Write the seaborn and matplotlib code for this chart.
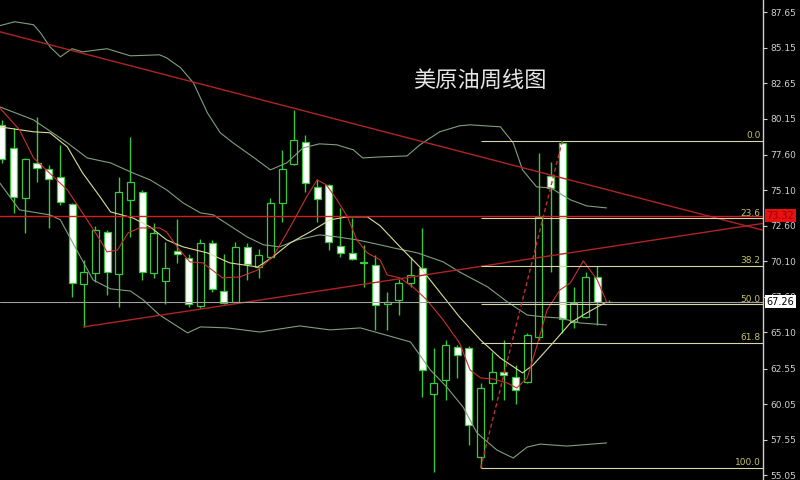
import numpy as np
import pandas as pd
import matplotlib
matplotlib.use("Agg")
import matplotlib.pyplot as plt
import matplotlib.transforms as mtransforms
import seaborn as sns

# Visual style -----------------------------------------------------
c_bg = "black"
c_candle = "#3cc83c"
c_band = "#7f9f7f"
c_ma_fast = "#c83030"
c_ma_slow = "#dcdc98"
c_trend = "#b02424"
c_fib = "#d6d6a8"
c_fib_txt = "#c8c068"
c_axis = "#d0d0d0"
lw = 0.8

# Weekly candles (one row per week) --------------------------------
opens = [79.71, 78.09, 74.57, 77.03, 76.61, 76.05, 74.15, 68.51, 69.28, 72.17,
         69.21, 74.43, 74.99, 69.28, 68.72, 70.83, 70.34, 66.96, 71.40, 68.01,
         67.24, 71.12, 69.70, 70.41, 74.22, 76.96, 78.51, 75.34, 75.48, 71.19,
         70.69, 70.06, 69.85, 67.10, 67.38, 68.58, 69.63, 60.76, 61.75, 64.07,
         64.00, 56.32, 61.53, 62.31, 61.96, 61.60, 64.77, 76.12, 78.44, 65.83,
         66.18, 69.00, 67.26]
highs = [80.06, 79.50, 77.40, 80.27, 76.89, 78.30, 74.22, 70.20, 72.60, 72.31,
         76.05, 78.87, 75.13, 72.81, 71.47, 73.09, 70.62, 71.68, 71.61, 70.62,
         71.47, 71.40, 70.97, 74.57, 77.95, 80.77, 79.01, 75.91, 75.55, 73.86,
         73.16, 71.26, 70.55, 67.94, 68.86, 70.41, 72.45, 64.00, 64.56, 64.21,
         64.14, 61.53, 63.72, 64.56, 62.80, 65.06, 77.74, 77.10, 78.57, 68.30,
         69.35, 69.78, 67.35]
lows = [77.03, 73.51, 72.10, 75.70, 72.45, 74.08, 67.59, 65.48, 68.65, 67.73,
        66.89, 71.82, 68.79, 68.93, 67.10, 69.99, 66.89, 66.82, 67.94, 67.10,
        67.17, 68.79, 68.93, 70.34, 72.88, 76.89, 74.99, 72.88, 70.90, 70.41,
        70.20, 68.30, 65.27, 65.27, 66.32, 68.30, 60.55, 55.26, 60.34, 61.89,
        57.17, 55.54, 60.34, 60.34, 60.05, 61.53, 64.56, 69.35, 65.06, 65.41,
        66.10, 65.62, 67.20]
closes = [77.31, 74.64, 77.31, 76.68, 75.91, 74.29, 68.58, 69.35, 72.31, 69.35,
          74.99, 75.70, 69.35, 72.10, 69.63, 70.62, 67.10, 71.40, 68.16, 67.17,
          71.12, 69.92, 70.55, 74.22, 76.61, 78.65, 75.63, 74.50, 71.47, 70.69,
          70.27, 69.99, 67.03, 67.24, 68.58, 69.14, 62.45, 61.53, 64.21, 63.51,
          58.57, 61.18, 62.31, 62.10, 61.04, 64.92, 73.23, 75.27, 66.04, 67.17,
          69.00, 67.20, 67.26]

# Indicator lines (week position, price) ----------------------------
bb_up_x = [-0.2, 1.1, 2.7, 3.3, 4.1, 5.0, 6.0, 6.9, 9.0, 11.0, 13.5, 14.1, 15.3,
           16.4, 17.6, 18.7, 19.8, 21.5, 23.0, 24.4, 25.8, 27.2, 28.7, 30.1,
           30.9, 32.4, 34.7, 35.8, 37.5, 39.2, 40.1, 42.7, 43.8, 44.6, 45.8,
           47.0, 48.7, 50.1, 51.8]
bb_up = [86.69, 86.97, 86.76, 86.19, 85.21, 84.50, 85.07, 84.85, 85.07, 84.57,
         84.64, 84.43, 83.73, 82.67, 80.55, 79.15, 78.44, 77.45, 76.54, 77.03,
         78.09, 78.37, 78.30, 77.95, 77.38, 77.45, 77.52, 78.30, 79.22, 79.64,
         79.71, 79.57, 78.44, 76.54, 75.34, 75.27, 74.43, 74.00, 73.86]

bb_mid_x = [-0.2, 2.7, 5.6, 7.3, 9.3, 11.2, 12.7, 14.1, 15.5, 17.0, 18.1, 21.0,
            22.4, 23.8, 25.3, 27.2, 28.7, 30.4, 32.4, 33.5, 35.6, 37.8, 39.2,
            41.6, 43.3, 45.0, 46.4, 47.8, 49.5, 51.8]
bb_mid = [80.98, 80.06, 78.44, 77.38, 77.03, 76.33, 75.83, 75.13, 74.22, 73.51,
          73.37, 71.82, 71.26, 71.12, 71.61, 71.96, 71.82, 71.61, 71.26, 71.05,
          70.69, 70.06, 69.35, 68.30, 67.24, 66.32, 66.18, 66.11, 65.76, 65.62]

bb_low_x = [-0.2, 1.5, 4.1, 5.0, 6.4, 7.8, 9.3, 11.0, 12.1, 13.5, 15.9, 17.0,
            19.3, 22.1, 25.5, 28.1, 30.7, 33.5, 35.0, 36.7, 38.1, 39.5, 40.7,
            42.4, 43.8, 45.0, 46.1, 48.4, 51.8]
bb_low = [75.63, 73.72, 73.37, 73.02, 70.90, 68.79, 68.16, 68.01, 67.38, 66.32,
          65.06, 65.48, 65.41, 65.12, 65.55, 65.27, 65.41, 64.77, 64.42, 62.45,
          61.25, 59.84, 58.01, 56.81, 56.25, 57.02, 57.23, 57.09, 57.31]

ma_slow_x = [-0.2, 2.7, 4.1, 5.6, 6.9, 8.4, 9.3, 11.2, 12.7, 14.1, 15.5, 17.6,
             19.5, 21.9, 23.2, 24.7, 26.4, 28.1, 29.6, 31.3, 32.4, 34.1, 35.8,
             37.5, 39.2, 41.0, 42.7, 44.6, 45.5, 47.2, 48.7, 50.1, 51.8]
ma_slow = [79.57, 79.22, 79.15, 78.16, 76.33, 74.64, 73.58, 73.16, 72.52, 71.61,
           71.12, 70.69, 69.99, 69.70, 70.41, 71.40, 72.17, 73.02, 73.23, 73.23,
           72.60, 71.12, 69.70, 67.94, 66.18, 64.56, 63.29, 62.24, 62.80, 64.35,
           65.76, 66.47, 67.24]

ma_fast_x = [-0.2, 1.5, 2.7, 5.6, 6.9, 8.4, 9.0, 9.9, 10.8, 11.8, 13.5, 14.1,
             15.0, 16.1, 17.2, 18.9, 20.4, 21.9, 23.2, 24.7, 26.1, 27.0, 27.8,
             28.7, 29.6, 30.4, 31.3, 32.4, 33.0, 34.1, 35.2, 36.4, 37.8, 39.2,
             40.1, 41.0, 42.1, 43.3, 44.1, 45.0, 45.8, 46.7, 47.8, 48.7, 49.8,
             51.0, 51.8]
ma_fast = [80.91, 79.36, 77.38, 75.13, 73.51, 71.61, 70.76, 70.90, 72.10, 72.45,
           72.45, 72.17, 71.12, 70.06, 69.99, 68.93, 69.00, 69.49, 70.41, 72.52,
           74.64, 75.83, 75.48, 74.43, 73.23, 71.61, 70.69, 70.20, 69.14, 68.93,
           68.30, 67.38, 65.97, 64.35, 62.45, 61.89, 61.81, 61.53, 61.18, 61.89,
           64.07, 66.67, 68.08, 68.58, 70.13, 68.79, 67.24]

# Drawn objects: trend lines, fib retracement, price lines ----------
down_trend_x = [-0.17, 65.2]
down_trend = [86.26, 72.29]
up_trend_x = [7, 65.2]
up_trend = [65.48, 72.77]

fib_from = 41          # week of the swing low
fib_to = 48            # week of the swing high
fib_names = ["0.0", "23.6", "38.2", "50.0", "61.8", "100.0"]
fib_levels = [78.57, 73.13, 69.77, 67.06, 64.34, 55.54]

red_line = 73.32
last_price = 67.26

y_ticks = [87.65, 85.15, 82.65, 80.15, 77.60, 75.10, 72.60, 70.10, 67.60,
           65.10, 62.55, 60.05, 57.55, 55.05]

# Plot -------------------------------------------------------------
sns.set_style("dark", {"axes.facecolor": c_bg, "figure.facecolor": c_bg,
                       "axes.grid": False})
plt.rcParams["font.family"] = ["DejaVu Sans"]

fig = plt.figure(figsize=(8, 4.8), dpi=100, facecolor=c_bg)
ax = fig.add_axes([0, 0, 763 / 800, 1])
ax.set_facecolor(c_bg)

df = pd.DataFrame({"open": opens, "high": highs, "low": lows, "close": closes})
df["week"] = np.arange(len(df))
df["bottom"] = df[["open", "close"]].min(axis=1)
df["body"] = (df["close"] - df["open"]).abs()
df["fill"] = np.where(df["close"] >= df["open"], c_bg, "white")

# wicks + bodies
ax.vlines(df["week"], df["low"], df["high"], color=c_candle, lw=1.0, zorder=2)
ax.bar(df["week"], df["body"], bottom=df["bottom"], width=0.6,
       color=df["fill"], edgecolor=c_candle, linewidth=0.9, zorder=3)

# indicators
lines = [(bb_up_x, bb_up, c_band), (bb_mid_x, bb_mid, c_band),
         (bb_low_x, bb_low, c_band), (ma_slow_x, ma_slow, c_ma_slow),
         (ma_fast_x, ma_fast, c_ma_fast)]
for xs, ys, col in lines:
    sns.lineplot(x=xs, y=ys, ax=ax, color=col, lw=lw, estimator=None,
                 sort=False, legend=False, zorder=4)

x_min, x_max = -0.17, 65.2

# trend lines
sns.lineplot(x=down_trend_x, y=down_trend, ax=ax, color=c_trend, lw=1.0,
             estimator=None, legend=False, zorder=5)
sns.lineplot(x=up_trend_x, y=up_trend, ax=ax, color=c_trend, lw=1.0,
             estimator=None, legend=False, zorder=5)

# horizontal price lines
ax.axhline(red_line, color="#d02020", lw=1.0, zorder=5)
ax.axhline(last_price, color="#a0a0a0", lw=0.8, zorder=5)

# fib retracement
ax.hlines(fib_levels, fib_from, x_max, color=c_fib, lw=lw, zorder=5)
ax.plot([fib_from, fib_to], [fib_levels[-1], fib_levels[0]],
        color="#c03030", lw=1.0, ls=(0, (3, 2)), zorder=5)
trans = mtransforms.blended_transform_factory(ax.transAxes, ax.transData)
for name, lvl in zip(fib_names, fib_levels):
    ax.text(0.997, lvl + 0.05, name, transform=trans, ha="right", va="bottom",
            fontsize=6.5, color=c_fib_txt, zorder=6)

# axes
ax.set_xlim(x_min, x_max)
ax.set_ylim(54.70, 88.50)
ax.set_xticks([])
ax.yaxis.tick_right()
ax.set_yticks(y_ticks)
ax.set_yticklabels([f"{v:.2f}" for v in y_ticks])
ax.tick_params(axis="y", colors=c_axis, labelsize=6.5, length=3, width=0.8,
               direction="out", pad=2)
for side in ["left", "top", "bottom"]:
    ax.spines[side].set_visible(False)
ax.spines["right"].set_color(c_axis)
ax.spines["right"].set_linewidth(1.0)
ax.set_xlabel("")
ax.set_ylabel("")

# price boxes on the axis
ax.annotate(f"{red_line:.2f}", xy=(1, red_line), xycoords=trans,
            xytext=(2.5, 0), textcoords="offset points", ha="left", va="center",
            fontsize=7, color="#9a0000", annotation_clip=False,
            bbox=dict(boxstyle="square,pad=0.15", fc="#e81010", ec="none"))
ax.annotate(f"{last_price:.2f}", xy=(1, last_price), xycoords=trans,
            xytext=(2.5, 0), textcoords="offset points", ha="left", va="center",
            fontsize=7, color="black", annotation_clip=False,
            bbox=dict(boxstyle="square,pad=0.15", fc="white", ec="none"))

# title
fig.text(480 / 800, 1 - 80 / 480, "美原油周线图", ha="center", va="center",
         fontsize=16, color="#e6e6e6",
         family=["Noto Sans CJK SC", "DejaVu Sans"])

fig.savefig("out.png", dpi=100, facecolor=c_bg)
